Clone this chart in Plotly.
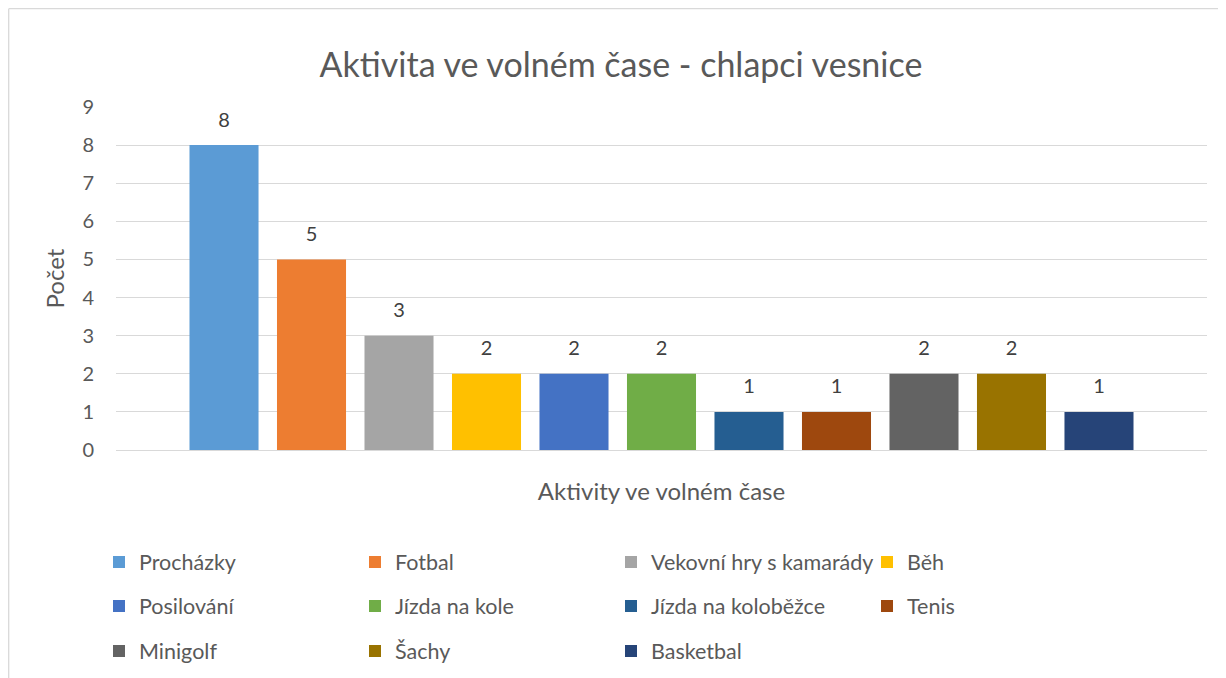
import plotly.graph_objects as go

activities = ["Procházky", "Fotbal", "Vekovní hry s kamarády", "Běh", "Posilování",
              "Jízda na kole", "Jízda na koloběžce", "Tenis", "Minigolf", "Šachy", "Basketbal"]
counts = [8, 5, 3, 2, 2, 2, 1, 1, 2, 2, 1]
colors = ["#5B9BD5", "#ED7D31", "#A5A5A5", "#FFC000", "#4472C4", "#70AD47",
          "#255E91", "#9E480E", "#636363", "#997300", "#264478"]
y_ticks = list(range(0, 10))

FONT = "Lato, 'Open Sans', sans-serif"
W, H = 1226, 678
L, R, T, B = 108, 27, 99, 236
pw, ph = W - L - R, H - T - B

def px_x(x):
    return (x - L) / pw

def px_y(y):
    return (H - B - y) / ph

fig = go.Figure()
legend_names = ["legend", "legend2", "legend3"]
for i, (name, val, col) in enumerate(zip(activities, counts, colors)):
    fig.add_trace(go.Bar(
        x=[""], y=[val], name=name, marker_color=col, marker_line_width=0,
        offsetgroup=str(i), alignmentgroup="a",
        legend=legend_names[i // 4], hoverinfo="name+y",
    ))
for i, (name, val) in enumerate(zip(activities, counts)):
    fig.add_trace(go.Scatter(
        x=[""], y=[val], mode="markers+text", text=[str(val)],
        textposition="top center", cliponaxis=False,
        marker=dict(size=20, opacity=0), showlegend=False, hoverinfo="skip",
        textfont=dict(size=20, color="#404040", family=FONT),
        offsetgroup=str(i), alignmentgroup="a",
    ))

legend_common = dict(
    orientation="h", xanchor="left", yanchor="middle",
    entrywidth=211, entrywidthmode="pixels",
    font=dict(size=21.5, color="#595959", family=FONT),
    bgcolor="rgba(0,0,0,0)", itemclick=False,
)
rows_y = [554, 598, 643]
leg_x = 91

fig.update_layout(
    width=W, height=H,
    margin=dict(l=L, r=R, t=T, b=B),
    paper_bgcolor="white", plot_bgcolor="white",
    barmode="group", bargap=0.1178, bargroupgap=0.211,
    scattermode="group", scattergap=0.1178,
    title=dict(text="Aktivita ve volném čase - chlapci vesnice",
               x=613 / W, xanchor="center", xref="container",
               y=1 - 57 / H, yanchor="middle", yref="container",
               font=dict(size=34, color="#595959", family=FONT)),
    xaxis=dict(showticklabels=False, showgrid=False, zeroline=False,
               showline=False, ticks="",
               title=dict(text="Aktivity ve volném čase", standoff=33,
                          font=dict(size=24, color="#595959", family=FONT))),
    yaxis=dict(range=[0, 9], tickvals=y_ticks, showgrid=True,
               gridcolor="#D9D9D9", gridwidth=1.3, zeroline=True,
               zerolinecolor="#D9D9D9", zerolinewidth=1.3, showline=False,
               ticks="", ticklabelstandoff=21,
               tickfont=dict(size=20, color="#595959", family=FONT),
               title=dict(text="Počet", standoff=10,
                          font=dict(size=24, color="#595959", family=FONT))),
    legend=dict(x=px_x(leg_x), y=px_y(rows_y[0]), **legend_common),
    legend2=dict(x=px_x(leg_x), y=px_y(rows_y[1]), **legend_common),
    legend3=dict(x=px_x(leg_x), y=px_y(rows_y[2]), **legend_common),
    shapes=[
        dict(type="line", xref="paper", yref="paper",
             x0=px_x(0.7), x1=px_x(1240), y0=px_y(0.7), y1=px_y(0.7),
             line=dict(color="#D9D9D9", width=1.3)),
        dict(type="line", xref="paper", yref="paper",
             x0=px_x(0.7), x1=px_x(0.7), y0=px_y(0.7), y1=px_y(690),
             line=dict(color="#D9D9D9", width=1.3)),
    ],
)

fig.write_html("out.html")
